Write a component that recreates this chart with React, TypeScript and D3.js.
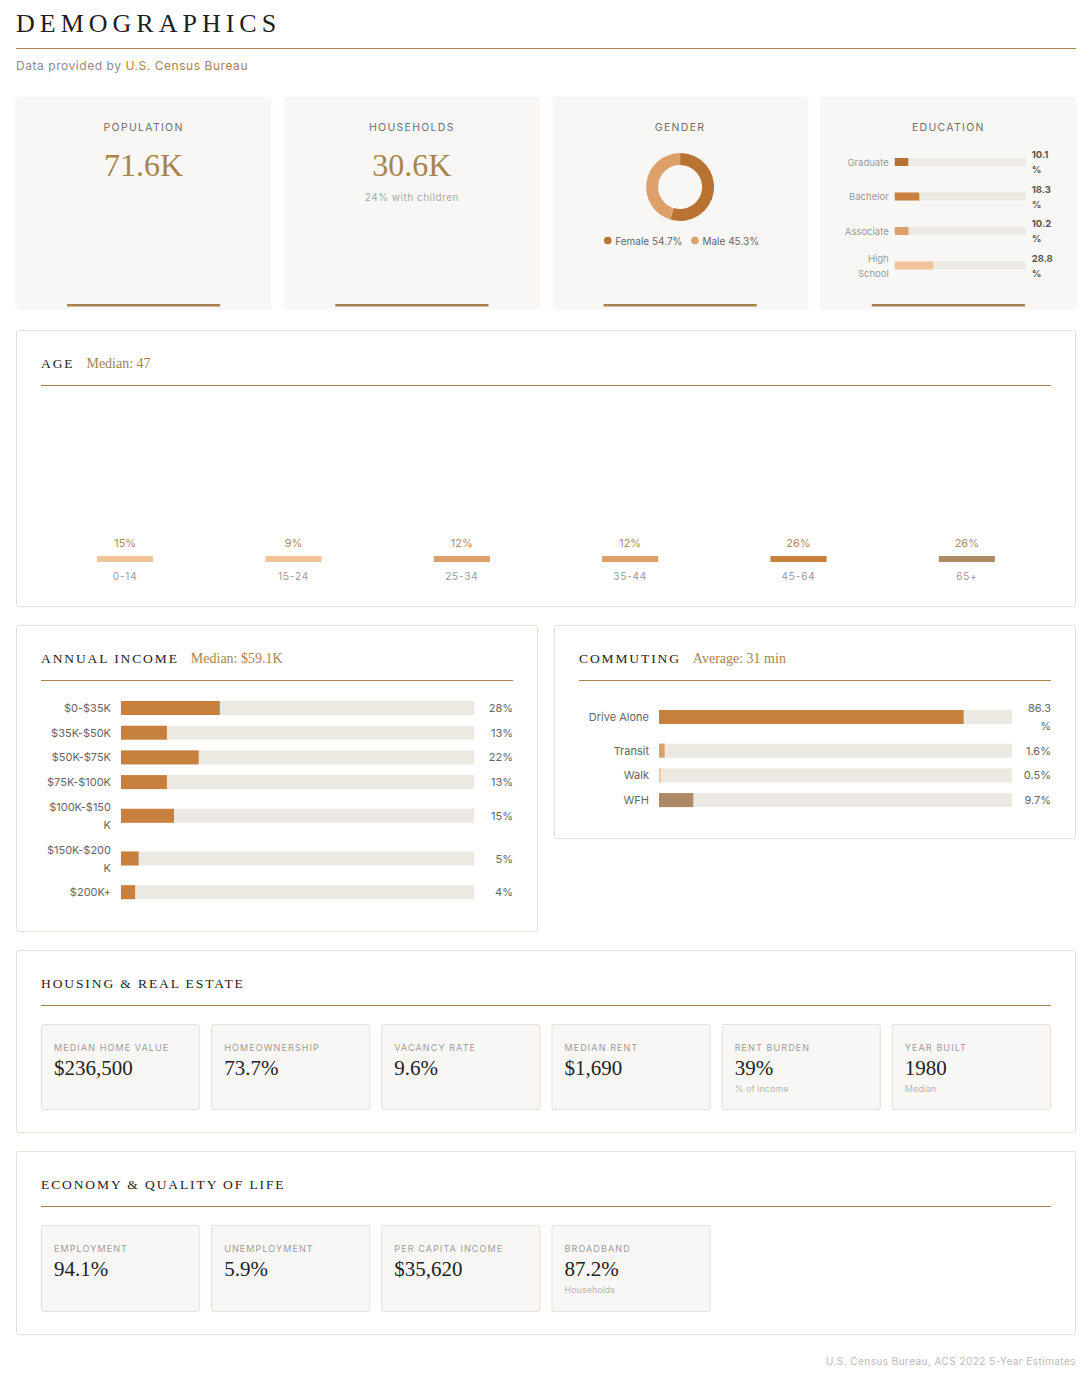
import React from 'react';
import * as d3 from 'd3';

const SANS = "Inter, 'Liberation Sans', Arial, sans-serif";
const SERIF = "'Liberation Serif', 'Times New Roman', serif";
const ACCENT = '#a8834f';
const TRACK = '#ece9e2';
const CARD_BG = '#f8f7f5';
const BORDER = '#e4e1da';

// ---------- data ----------
const topCardTitles = ['POPULATION', 'HOUSEHOLDS', 'GENDER', 'EDUCATION'];
const populationValue = '71.6K';
const householdsValue = '30.6K';
const householdsSub = '24% with children';

const genderLabels = ['Female', 'Male'];
const genderValues = [54.7, 45.3];
const genderColors = ['#b87333', '#dea06a'];

const eduLabels = ['Graduate', 'Bachelor', 'Associate', 'High School'];
const eduValues = [10.1, 18.3, 10.2, 28.8];
const eduColors = ['#b87333', '#c8803f', '#dea06a', '#f0c498'];

const ageGroups = ['0-14', '15-24', '25-34', '35-44', '45-64', '65+'];
const agePct = [15, 9, 12, 12, 26, 26];
const ageColors = ['#f0c498', '#f0c498', '#dea06a', '#dea06a', '#c8803f', '#ad8a64'];
const ageMedian = 'Median: 47';

const incomeBrackets = ['$0-$35K', '$35K-$50K', '$50K-$75K', '$75K-$100K', '$100K-$150K', '$150K-$200K', '$200K+'];
const incomePct = [28, 13, 22, 13, 15, 5, 4];
const incomeMedian = 'Median: $59.1K';

const commuteModes = ['Drive Alone', 'Transit', 'Walk', 'WFH'];
const commutePct = [86.3, 1.6, 0.5, 9.7];
const commuteColors = ['#c8803f', '#dea06a', '#f0c498', '#ad8a64'];
const commuteAverage = 'Average: 31 min';

const housingLabels = ['MEDIAN HOME VALUE', 'HOMEOWNERSHIP', 'VACANCY RATE', 'MEDIAN RENT', 'RENT BURDEN', 'YEAR BUILT'];
const housingValues = ['$236,500', '73.7%', '9.6%', '$1,690', '39%', '1980'];
const housingSubs = ['', '', '', '', '% of income', 'Median'];

const economyLabels = ['EMPLOYMENT', 'UNEMPLOYMENT', 'PER CAPITA INCOME', 'BROADBAND'];
const economyValues = ['94.1%', '5.9%', '$35,620', '87.2%'];
const economySubs = ['', '', '', 'Households'];

const footerText = 'U.S. Census Bureau, ACS 2022 5-Year Estimates';

// ---------- helpers ----------
let ctx: CanvasRenderingContext2D | null = null;
function measure(text: string, font: string) {
  if (!ctx) ctx = document.createElement('canvas').getContext('2d');
  ctx!.font = font;
  return ctx!.measureText(text).width;
}
function wrap(text: string, font: string, maxW: number): string[] {
  const words = text.split(' ');
  const lines: string[] = [];
  let cur = '';
  for (const w of words) {
    const t = cur ? cur + ' ' + w : w;
    if (!cur || measure(t, font) <= maxW) cur = t;
    else { lines.push(cur); cur = w; }
  }
  lines.push(cur);
  const out: string[] = [];
  for (const l of lines) {
    if (measure(l, font) <= maxW) { out.push(l); continue; }
    let c = '';
    for (const ch of l) {
      if (c && measure(c + ch, font) > maxW) { out.push(c); c = ch; } else c += ch;
    }
    out.push(c);
  }
  return out;
}

type Row = { label: string[]; value: string[]; cy: number; v: number; i: number };
function layoutRows(labels: string[], values: number[], fmt: (v: number) => string,
  lf: string, lmax: number, vf: string, vmax: number, lineH: number, gap: number, top: number, barH: number): Row[] {
  let y = top;
  return labels.map((l, i) => {
    const ll = wrap(l, lf, lmax);
    const vl = wrap(fmt(values[i]), vf, vmax);
    const n = Math.max(ll.length, vl.length);
    const h = Math.max(n * lineH, barH);
    const cy = y + h / 2;
    y += h + gap;
    return { label: ll, value: vl, cy, v: values[i], i };
  });
}

function Lines({ lines, x, cy, lineH, ...rest }: any) {
  return (
    <text x={x} {...rest}>
      {lines.map((l: string, k: number) => (
        <tspan key={k} x={x} y={cy + (k - (lines.length - 1) / 2) * lineH} dominantBaseline="central">{l}</tspan>
      ))}
    </text>
  );
}

function Section({ x, y, w, h, title, sub }: any) {
  return (
    <g>
      <rect x={x + 0.5} y={y + 0.5} width={w - 1} height={h - 1} fill="#fff" stroke={BORDER} rx={2} />
      <text x={x + 25} y={y + 33} dominantBaseline="central" fontFamily={SERIF}>
        <tspan fontSize={13.5} letterSpacing={1.9} fill="#222">{title}</tspan>
        {sub ? <tspan dx={12} fontSize={14} fill={ACCENT}>{sub}</tspan> : null}
      </text>
      <line x1={x + 25} x2={x + w - 25} y1={y + 55.5} y2={y + 55.5} stroke={ACCENT} strokeWidth={1} />
    </g>
  );
}

function Tiles({ labels, values, subs, top, h }: any) {
  const xb = d3.scaleBand<number>().domain(d3.range(6)).range([41, 1051]).paddingInner(0.0647);
  return (
    <g>
      {labels.map((l: string, i: number) => {
        const x = xb(i)!;
        return (
          <g key={l}>
            <rect x={x + 0.5} y={top + 0.5} width={xb.bandwidth() - 1} height={h - 1} fill={CARD_BG} stroke={BORDER} rx={2} />
            <text x={x + 13} y={top + 23} dominantBaseline="central" fontFamily={SANS} fontSize={9} letterSpacing={1.1} fill="#9d9d9d">{l}</text>
            <text x={x + 13} y={top + 51} fontFamily={SERIF} fontSize={21} fill="#222">{values[i]}</text>
            {subs[i] ? <text x={x + 13} y={top + 64} dominantBaseline="central" fontFamily={SANS} fontSize={9} fill="#bdb7ad">{subs[i]}</text> : null}
          </g>
        );
      })}
    </g>
  );
}

function HBarCard({ x, y, w, h, title, sub, labels, values, colors, lineGap }: any) {
  const lf = `11px ${SANS}`;
  const rows = layoutRows(labels, values, (v) => `${v}%`, lf, 69, lf, 29, 18, lineGap, y + 74, 14);
  const xs = d3.scaleLinear().domain([0, 100]).range([x + 105, x + w - 64]);
  return (
    <g>
      <Section x={x} y={y} w={w} h={h} title={title} sub={sub} />
      {rows.map((r) => (
        <g key={r.i}>
          <Lines lines={r.label} x={x + 95} cy={r.cy} lineH={18} textAnchor="end" fontFamily={SANS} fontSize={11} fill="#666" />
          <rect x={xs(0)} y={r.cy - 7} width={xs(100) - xs(0)} height={14} fill={TRACK} />
          <rect x={xs(0)} y={r.cy - 7} width={xs(r.v) - xs(0)} height={14} fill={colors[r.i % colors.length]} />
          <Lines lines={r.value} x={x + w - 25} cy={r.cy} lineH={18} textAnchor="end" fontFamily={SANS} fontSize={11} fill="#666" />
        </g>
      ))}
    </g>
  );
}

export default function App() {
  const W = 1092, H = 1374;
  const cardX = d3.scaleBand<string>().domain(topCardTitles).range([16, 1076]).paddingInner(0.0485);
  const cw = cardX.bandwidth();
  const cardTop = 97, cardH = 211;

  // gender donut
  const pie = d3.pie<number>().sort(null).value((d) => d);
  const arcs = pie(genderValues);
  const arc = d3.arc<d3.PieArcDatum<number>>().innerRadius(22).outerRadius(34);

  // education
  const eduX0 = cardX('EDUCATION')!;
  const ef = `9.5px ${SANS}`;
  const evf = `bold 9.5px ${SANS}`;
  const eduRows = layoutRows(eduLabels, eduValues, (v) => `${v}%`, ef, 48, evf, 24, 15, 4.5, 147, 8);
  const eduScale = d3.scaleLinear().domain([0, 100]).range([eduX0 + 74, eduX0 + 74 + 131 / 0.98]);
  const eduEnd = eduX0 + 205;

  // age
  const ageX = d3.scaleBand<string>().domain(ageGroups).range([41, 1051]);
  const ageBarW = ageX.bandwidth() / 3;

  const genderX = cardX('GENDER')! + cw / 2;

  return (
    <svg width={W} height={H} style={{ position: 'absolute', left: 0, top: 0, background: '#fff' }}>
      <defs>
        <filter id="sh" x="-5%" y="-5%" width="110%" height="115%">
          <feDropShadow dx={0} dy={1} stdDeviation={1.5} floodColor="#000" floodOpacity={0.06} />
        </filter>
      </defs>
      {/* header */}
      <text x={16} y={32} fontFamily={SERIF} fontSize={26} letterSpacing={5} fill="#1e1e1e">DEMOGRAPHICS</text>
      <line x1={16} x2={1076} y1={48.5} y2={48.5} stroke={ACCENT} strokeWidth={1} />
      <text x={16} y={65} dominantBaseline="central" fontFamily={SANS} fontSize={12} letterSpacing={0.55}>
        <tspan fill="#8c8c8c">Data provided by </tspan>
        <tspan fill={ACCENT}>U.S. Census Bureau</tspan>
      </text>

      {/* top cards */}
      {topCardTitles.map((t) => {
        const x = cardX(t)!;
        return (
          <g key={t}>
            <rect x={x} y={cardTop} width={cw} height={cardH} rx={3} fill={CARD_BG} filter="url(#sh)" />
            <text x={x + cw / 2} y={127} textAnchor="middle" dominantBaseline="central" fontFamily={SANS} fontSize={10.5} letterSpacing={1.3} fill="#6f6f6f">{t}</text>
            <rect x={x + cw * 0.2} y={cardTop + cardH - 4} width={cw * 0.6} height={2.5} fill={ACCENT} />
          </g>
        );
      })}
      <text x={cardX('POPULATION')! + cw / 2} y={176} textAnchor="middle" fontFamily={SERIF} fontSize={32} fill={ACCENT}>{populationValue}</text>
      <text x={cardX('HOUSEHOLDS')! + cw / 2} y={176} textAnchor="middle" fontFamily={SERIF} fontSize={32} fill={ACCENT}>{householdsValue}</text>
      <text x={cardX('HOUSEHOLDS')! + cw / 2} y={197} textAnchor="middle" dominantBaseline="central" fontFamily={SANS} fontSize={10} letterSpacing={0.5} fill="#aaa">{householdsSub}</text>

      {/* gender donut */}
      <g transform={`translate(${genderX},187)`}>
        {arcs.map((a, i) => <path key={i} d={arc(a)!} fill={genderColors[i]} />)}
      </g>
      {(() => {
        const f = `10px ${SANS}`;
        const items = genderLabels.map((l, i) => `${l} ${genderValues[i]}%`);
        const widths = items.map((s) => 8 + measure(s, f));
        const gap = 12;
        const total = d3.sum(widths) + gap * (items.length - 1);
        let cx = genderX - total / 2;
        return items.map((s, i) => {
          const x0 = cx;
          cx += widths[i] + gap;
          return (
            <g key={s}>
              <circle cx={x0 + 3.5} cy={240.5} r={3.8} fill={genderColors[i]} />
              <text x={x0 + 11} y={240.5} dominantBaseline="central" fontFamily={SANS} fontSize={10} fill="#666">{s}</text>
            </g>
          );
        });
      })()}

      {/* education */}
      {eduRows.map((r) => (
        <g key={r.i}>
          <Lines lines={r.label} x={eduX0 + 68} cy={r.cy} lineH={15} textAnchor="end" fontFamily={SANS} fontSize={9.5} fill="#9a9a9a" />
          <rect x={eduScale(0)} y={r.cy - 4} width={eduEnd - eduScale(0)} height={8} fill={TRACK} />
          <rect x={eduScale(0)} y={r.cy - 4} width={eduScale(r.v) - eduScale(0)} height={8} fill={eduColors[r.i]} />
          <Lines lines={r.value} x={eduEnd + 6} cy={r.cy} lineH={15} fontFamily={SANS} fontSize={9.5} fontWeight="bold" fill="#555" />
        </g>
      ))}

      {/* age */}
      <Section x={16} y={330} w={1060} h={277} title="AGE" sub={ageMedian} />
      {ageGroups.map((g, i) => {
        const cx = ageX(g)! + ageX.bandwidth() / 2;
        return (
          <g key={g}>
            <text x={cx} y={543} textAnchor="middle" dominantBaseline="central" fontFamily={SANS} fontSize={11} fill="#b08c62">{agePct[i]}%</text>
            <rect x={cx - ageBarW / 2} y={556} width={ageBarW} height={6} fill={ageColors[i]} />
            <text x={cx} y={576} textAnchor="middle" dominantBaseline="central" fontFamily={SANS} fontSize={10} letterSpacing={0.8} fill="#9a9a9a">{g}</text>
          </g>
        );
      })}

      {/* income & commuting */}
      <HBarCard x={16} y={625} w={522} h={307} title="ANNUAL INCOME" sub={incomeMedian}
        labels={incomeBrackets} values={incomePct} colors={['#c8803f']} lineGap={6.7} />
      <HBarCard x={554} y={625} w={522} h={214} title="COMMUTING" sub={commuteAverage}
        labels={commuteModes} values={commutePct} colors={commuteColors} lineGap={6.7} />

      {/* housing */}
      <Section x={16} y={950} w={1060} h={183} title="HOUSING & REAL ESTATE" />
      <Tiles labels={housingLabels} values={housingValues} subs={housingSubs} top={1024} h={86} />

      {/* economy */}
      <Section x={16} y={1151} w={1060} h={184} title="ECONOMY & QUALITY OF LIFE" />
      <Tiles labels={economyLabels} values={economyValues} subs={economySubs} top={1225} h={87} />

      <text x={1076} y={1361} textAnchor="end" dominantBaseline="central" fontFamily={SANS} fontSize={10} letterSpacing={0.45} fill="#bbb">{footerText}</text>
    </svg>
  );
}
